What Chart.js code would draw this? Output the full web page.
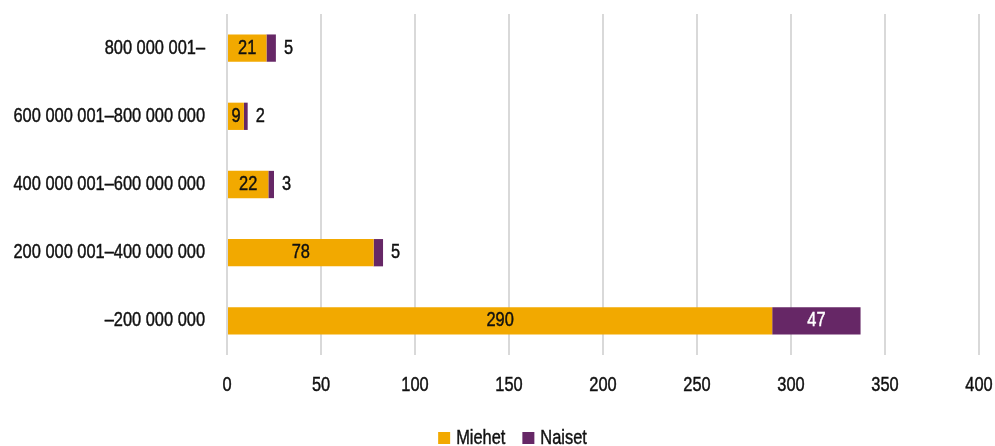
<!DOCTYPE html>
<html>
<head>
<meta charset="utf-8">
<script src="https://cdn.jsdelivr.net/npm/chart.js@4/dist/chart.umd.min.js"></script>
<style>
  html, body { margin: 0; padding: 0; background: #fff; }
  #wrap { width: 995px; height: 446px; }
</style>
</head>
<body>
<div id="wrap"><canvas id="tuloChart" width="995" height="446"></canvas></div>
<script>
const categories = ['800 000 001–', '600 000 001–800 000 000', '400 000 001–600 000 000', '200 000 001–400 000 000', '–200 000 000'];
const miehet = [21, 9, 22, 78, 290];
const naiset = [5, 2, 3, 5, 47];
const xTicks = [0, 50, 100, 150, 200, 250, 300, 350, 400];

const FONT = "20px 'Liberation Sans', Arial, sans-serif";
const SQUEEZE = 0.82;   // kapea kirjaintyyli
const INK = '#111111';

// kapeutettu teksti, hieman lihavoitu ohuella reunaviivalla
function narrowText(c, txt, x, y, align, color) {
  c.save();
  c.font = FONT;
  c.fillStyle = color;
  c.strokeStyle = color;
  c.lineWidth = 0.45;
  c.textBaseline = 'middle';
  c.textAlign = align;
  c.translate(x, y);
  c.scale(SQUEEZE, 1);
  c.fillText(txt, 0, 0);
  c.strokeText(txt, 0, 0);
  c.restore();
}
function narrowWidth(c, txt) {
  c.save();
  c.font = FONT;
  const w = c.measureText(txt).width * SQUEEZE;
  c.restore();
  return w;
}

// akselien tekstit, arvot ja selite
const textLayer = {
  id: 'textLayer',
  afterDatasetsDraw(chart) {
    const c = chart.ctx;
    const xs = chart.scales.x, ys = chart.scales.y;

    xTicks.forEach(v => narrowText(c, String(v), xs.getPixelForValue(v), 385, 'center', INK));
    categories.forEach((lab, i) => narrowText(c, lab, xs.left - 22, ys.getPixelForValue(i), 'right', INK));

    chart.data.datasets.forEach((ds, di) => {
      chart.getDatasetMeta(di).data.forEach((bar, i) => {
        const v = String(ds.data[i]);
        const w = Math.abs(bar.x - bar.base);
        const mid = (bar.x + bar.base) / 2;
        if (di === 0) narrowText(c, v, mid, bar.y, 'center', INK);
        else if (w > 30) narrowText(c, v, mid, bar.y, 'center', '#ffffff');
        else narrowText(c, v, bar.x + 8, bar.y, 'left', INK);
      });
    });

    // selite
    const box = 12, gap = 6, between = 17, ly = 438;
    const items = chart.data.datasets.map(d => ({ t: d.label, col: d.backgroundColor, w: narrowWidth(c, d.label) }));
    let total = 0;
    items.forEach((it, k) => { total += box + gap + it.w + (k ? between : 0); });
    let lx = chart.width / 2 + 15 - total / 2;
    items.forEach(it => {
      c.fillStyle = it.col;
      c.fillRect(lx, ly - box / 2, box, box);
      narrowText(c, it.t, lx + box + gap, ly, 'left', INK);
      lx += box + gap + it.w + between;
    });
  }
};

new Chart(document.getElementById('tuloChart').getContext('2d'), {
  type: 'bar',
  data: {
    labels: categories,
    datasets: [
      { label: 'Miehet', data: miehet, backgroundColor: '#F2A900', categoryPercentage: 1, barPercentage: 0.4 },
      { label: 'Naiset', data: naiset, backgroundColor: '#662766', categoryPercentage: 1, barPercentage: 0.4 }
    ]
  },
  options: {
    indexAxis: 'y',
    responsive: false,
    animation: false,
    layout: { padding: { top: 14, right: 16, bottom: 0, left: 0 } },
    scales: {
      x: {
        stacked: true,
        min: 0,
        max: 400,
        afterBuildTicks: axis => { axis.ticks = xTicks.map(v => ({ value: v })); },
        grid: { color: '#d9d9d9', lineWidth: 2, drawTicks: false },
        border: { display: false },
        ticks: { display: false },
        afterFit: axis => { axis.height = 91; }
      },
      y: {
        stacked: true,
        grid: { display: false },
        border: { display: false },
        ticks: { display: false },
        afterFit: axis => { axis.width = 227; }
      }
    },
    plugins: {
      legend: { display: false },
      tooltip: { enabled: false }
    }
  },
  plugins: [textLayer]
});
</script>
</body>
</html>
